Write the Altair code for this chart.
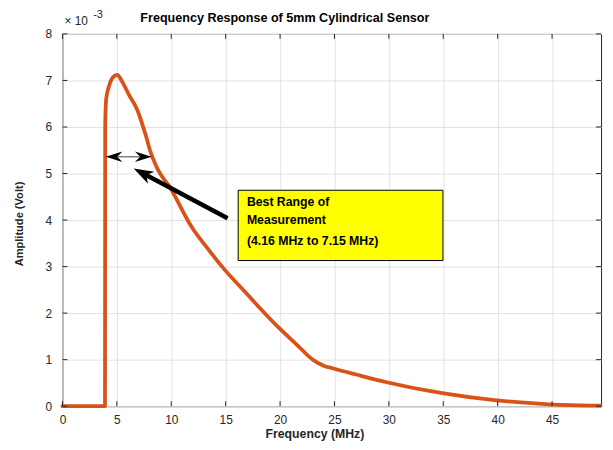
import altair as alt
import pandas as pd
import numpy as np

# ---------------- data ----------------
freq = [0, 3.91, 3.93, 3.97, 4.03, 4.27, 4.58, 5.03, 5.48, 6.09, 6.85, 7.3, 7.67,
        8.06, 8.52, 8.82, 9.42, 9.88, 10.3, 11.85, 13.3, 14.88, 17.0, 17.9, 20.0,
        21.5, 23.06, 24.0, 24.9, 27.0, 29.7, 34.9, 39.7, 44.7, 49.45]
amp = [0, 0, 6.0, 6.4, 6.62, 6.87, 7.05, 7.12, 6.98, 6.70, 6.38, 6.09, 5.81,
       5.49, 5.21, 5.06, 4.85, 4.71, 4.53, 3.86, 3.40, 2.94, 2.40, 2.17, 1.66,
       1.33, 0.99, 0.87, 0.81, 0.68, 0.52, 0.28, 0.13, 0.04, 0.01]

x_ticks = [0, 5, 10, 15, 20, 25, 30, 35, 40, 45]
y_ticks = [0, 1, 2, 3, 4, 5, 6, 7, 8]

title_text = "Frequency Response of 5mm Cylindrical Sensor"
x_title = "Frequency (MHz)"
y_title = "Amplitude (Volt)"
box_lines = ["Best Range of", "Measurement", "(4.16 MHz to 7.15 MHz)"]
box_line_y = [4.39, 4.01, 3.55]
box_text_x = [16.95, 16.95, 16.95]
box_x = [16.15, 34.97]
box_y = [3.13, 4.64]
range_y = 5.36
range_x = [3.97, 8.2]
pointer_tip = [6.55, 5.11]
pointer_tail = [15.18, 4.04]

# ---------------- layout ----------------
W, H = 544, 376
XMAX, YMAX = 49.5, 8
PX = W / XMAX   # pixels per MHz
PY = H / YMAX   # pixels per unit
FONT = "Liberation Sans"
ORANGE = "#D95319"
AX = "#262626"

xs = alt.Scale(domain=[0, XMAX], nice=False, zero=False)
ys = alt.Scale(domain=[0, YMAX], nice=False)
xaxis = alt.Axis(values=x_ticks, grid=True, ticks=False, domain=False, labelPadding=8,
                 title=None, labelFontSize=12, labelFont=FONT, labelColor=AX,
                 gridColor="#e2e2e2", labelFlush=False)
yaxis = alt.Axis(values=y_ticks, grid=True, ticks=False, domain=False, labelPadding=11,
                 title=None, labelFontSize=12, labelFont=FONT, labelColor=AX,
                 gridColor="#e2e2e2", labelFlush=False)
X = alt.X("x:Q", scale=xs, axis=xaxis)
Y = alt.Y("y:Q", scale=ys, axis=yaxis)

curve_df = pd.DataFrame({"x": freq, "y": amp})
curve = alt.Chart(curve_df).mark_line(color=ORANGE, strokeWidth=3.8, strokeJoin="round",
                                      strokeCap="round", interpolate="monotone").encode(
    x=X, y=Y, order="x:Q")

# inward ticks on all four sides
xt_df = pd.DataFrame({"x": x_ticks})
yt_df = pd.DataFrame({"y": y_ticks})
tb = alt.Chart(xt_df).mark_rule(color=AX, strokeWidth=1).encode(x=X, y=alt.value(H), y2=alt.value(H - 5))
tt = alt.Chart(xt_df).mark_rule(color=AX, strokeWidth=1).encode(x=X, y=alt.value(0), y2=alt.value(5))
tl = alt.Chart(yt_df).mark_rule(color=AX, strokeWidth=1).encode(y=Y, x=alt.value(0), x2=alt.value(5))
tr = alt.Chart(yt_df).mark_rule(color=AX, strokeWidth=1).encode(y=Y, x=alt.value(W), x2=alt.value(W - 5))

# yellow annotation box
box_df = pd.DataFrame({"x": [box_x[0]], "x2": [box_x[1]], "y": [box_y[0]], "y2": [box_y[1]]})
box = alt.Chart(box_df).mark_rect(fill="#FFFF00", stroke="#000000", strokeWidth=1).encode(
    x=X, x2="x2:Q", y=Y, y2="y2:Q")
boxtxt_df = pd.DataFrame({"x": box_text_x, "y": box_line_y, "t": box_lines})
boxtxt = alt.Chart(boxtxt_df).mark_text(align="left", baseline="middle", font=FONT,
                                        fontSize=12.4, fontWeight="bold", color="#000").encode(
    x=X, y=Y, text="t:N")

# double-headed range arrow
head_path = "M0,-1 L0.5,0.6 L0,0.1 L-0.5,0.6 Z"
r_small = 10.6
size_small = (2 * r_small) ** 2
shaft_df = pd.DataFrame({"x": [range_x[0] + 0.6, range_x[1] - 0.6], "y": [range_y, range_y]})
shaft = alt.Chart(shaft_df).mark_line(color="#7f7f7f", strokeWidth=1.5).encode(x=X, y=Y)
heads_df = pd.DataFrame({
    "x": [range_x[0] + r_small / PX, range_x[1] - r_small / PX],
    "y": [range_y, range_y],
    "a": [270, 90],
})
heads = alt.Chart(heads_df).mark_point(shape=head_path, filled=True, color="#000", opacity=1,
                                       size=size_small, strokeWidth=0).encode(
    x=X, y=Y, angle=alt.Angle("a:Q", scale=None))

# thick pointer arrow
r_big = 12.5
size_big = (2 * r_big) ** 2
dxp = (pointer_tip[0] - pointer_tail[0]) * PX
dyp = -(pointer_tip[1] - pointer_tail[1]) * PY
L = np.hypot(dxp, dyp)
ux, uy = dxp / L, dyp / L
hc_x = pointer_tip[0] - r_big * ux / PX
hc_y = pointer_tip[1] + r_big * uy / PY
ang = float(np.degrees(np.arctan2(ux, -uy)) % 360)
ptr_df = pd.DataFrame({"x": [pointer_tail[0], hc_x], "y": [pointer_tail[1], hc_y]})
ptr = alt.Chart(ptr_df).mark_line(color="#000", strokeWidth=4.5).encode(x=X, y=Y)
ptrhead_df = pd.DataFrame({"x": [hc_x], "y": [hc_y], "a": [ang]})
ptrhead = alt.Chart(ptrhead_df).mark_point(shape="M0,-1 L0.55,0.6 L0,0.15 L-0.55,0.6 Z",
                                           filled=True, color="#000", opacity=1,
                                           size=size_big, strokeWidth=0).encode(
    x=X, y=Y, angle=alt.Angle("a:Q", scale=None))

# texts placed in pixels (title, axis titles, exponent)
one = pd.DataFrame({"t": [title_text]})
title = alt.Chart(one).mark_text(align="left", baseline="middle", font=FONT, fontSize=12.7,
                                 fontWeight="bold", color="#000").encode(
    x=alt.value(141.7 - 63), y=alt.value(15.5 - 32), text="t:N")
xl = alt.Chart(pd.DataFrame({"t": [x_title]})).mark_text(
    align="center", baseline="middle", font=FONT, fontSize=12.4, fontWeight="bold", color=AX).encode(
    x=alt.value(318 - 63), y=alt.value(436 - 32), text="t:N")
yl = alt.Chart(pd.DataFrame({"t": [y_title]})).mark_text(
    align="center", baseline="middle", font=FONT, fontSize=11.2, fontWeight="bold", color=AX,
    angle=270).encode(x=alt.value(20 - 63), y=alt.value(224 - 32), text="t:N")
e1 = alt.Chart(pd.DataFrame({"t": ["× 10"]})).mark_text(
    align="left", baseline="middle", font=FONT, fontSize=12, color=AX).encode(
    x=alt.value(65 - 63), y=alt.value(19 - 32), text="t:N")
e2 = alt.Chart(pd.DataFrame({"t": ["-3"]})).mark_text(
    align="left", baseline="middle", font=FONT, fontSize=11, color=AX).encode(
    x=alt.value(94 - 63), y=alt.value(13 - 32), text="t:N")

chart = alt.layer(
    curve, tb, tt, tl, tr, shaft, heads, ptr, ptrhead, box, boxtxt,
    title, xl, yl, e1, e2
).properties(
    width=W, height=H,
    autosize=alt.AutoSizeParams(type="none"),
    padding={"left": 55, "top": 24, "right": 4, "bottom": 34},
    background="white",
).configure_view(stroke=AX, strokeWidth=1)

chart.save("out.html", embed_options={"renderer": "svg", "actions": False})
